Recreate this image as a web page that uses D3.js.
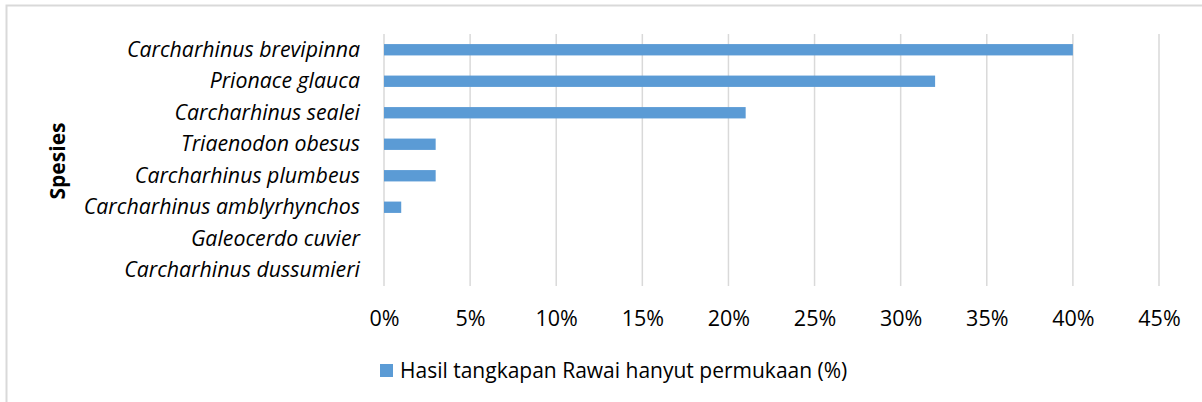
<!DOCTYPE html>
<html>
<head>
<meta charset="utf-8">
<script src="https://cdn.jsdelivr.net/npm/d3@7"></script>
<style>
  body { margin: 0; background: #fff; }
  text { font-family: "Open Sans", sans-serif; fill: #000; }
</style>
</head>
<body>
<svg id="chart" width="1202" height="402"></svg>
<script>
// species, top to bottom
var species = [
  "Carcharhinus brevipinna",
  "Prionace glauca",
  "Carcharhinus sealei",
  "Triaenodon obesus",
  "Carcharhinus plumbeus",
  "Carcharhinus amblyrhynchos",
  "Galeocerdo cuvier",
  "Carcharhinus dussumieri"
];
// Hasil tangkapan Rawai hanyut permukaan (%)
var catchPct = [40, 32, 21, 3, 3, 1, 0, 0];
var xTicks = [0, 5, 10, 15, 20, 25, 30, 35, 40, 45];
var seriesName = "Hasil tangkapan Rawai hanyut permukaan (%)";
var axisTitle = "Spesies";

var svg = d3.select("#chart");

// chart area border
svg.append("rect")
  .attr("x", 6.5).attr("y", 5.5)
  .attr("width", 1230).attr("height", 430)
  .attr("fill", "none")
  .attr("stroke", "#d9d9d9")
  .attr("stroke-width", 2);

var x = d3.scaleLinear().domain([0, 45]).range([384, 1159]);
var y = d3.scaleBand().domain(species).range([34, 286])
  .paddingInner(0.64).paddingOuter(0.32);

// vertical gridlines
svg.append("g")
  .selectAll("line")
  .data(xTicks)
  .enter()
  .append("line")
  .attr("x1", (d) => x(d)).attr("x2", (d) => x(d))
  .attr("y1", 34).attr("y2", 286)
  .attr("stroke", "#d9d9d9")
  .attr("stroke-width", 1.5);

// bars
svg.append("g")
  .selectAll("rect")
  .data(species)
  .enter()
  .append("rect")
  .attr("x", x(0))
  .attr("y", (d) => y(d))
  .attr("width", (d, i) => x(catchPct[i]) - x(0))
  .attr("height", y.bandwidth())
  .attr("fill", "#5b9bd5");

// x axis labels
var xAxis = d3.axisBottom(x)
  .tickValues(xTicks)
  .tickFormat((d) => d + "%")
  .tickSize(0)
  .tickPadding(0);
var gx = svg.append("g").attr("transform", "translate(0,318)").call(xAxis);
gx.select(".domain").remove();
gx.selectAll("text")
  .attr("y", 0).attr("dy", "0.35em")
  .style("font-family", "'Open Sans', sans-serif")
  .style("font-size", "21.5px")
  .attr("fill", "#000");

// y axis labels
var yAxis = d3.axisLeft(y).tickSize(0).tickPadding(0);
var gy = svg.append("g").attr("transform", "translate(360,0)").call(yAxis);
gy.select(".domain").remove();
gy.selectAll("text")
  .style("font-family", "'Open Sans', sans-serif")
  .style("font-size", "21.3px")
  .style("font-style", "italic")
  .attr("fill", "#000");

// y axis title
svg.append("text")
  .attr("transform", "translate(58,161) rotate(-90)")
  .attr("text-anchor", "middle")
  .attr("dy", "0.35em")
  .style("font-size", "21px")
  .style("font-weight", "bold")
  .text(axisTitle);

// legend
svg.append("rect")
  .attr("x", 380).attr("y", 364)
  .attr("width", 13).attr("height", 13)
  .attr("fill", "#5b9bd5");
svg.append("text")
  .attr("x", 400).attr("y", 371)
  .attr("dy", "0.35em")
  .style("font-size", "21px")
  .text(seriesName);
</script>
</body>
</html>
